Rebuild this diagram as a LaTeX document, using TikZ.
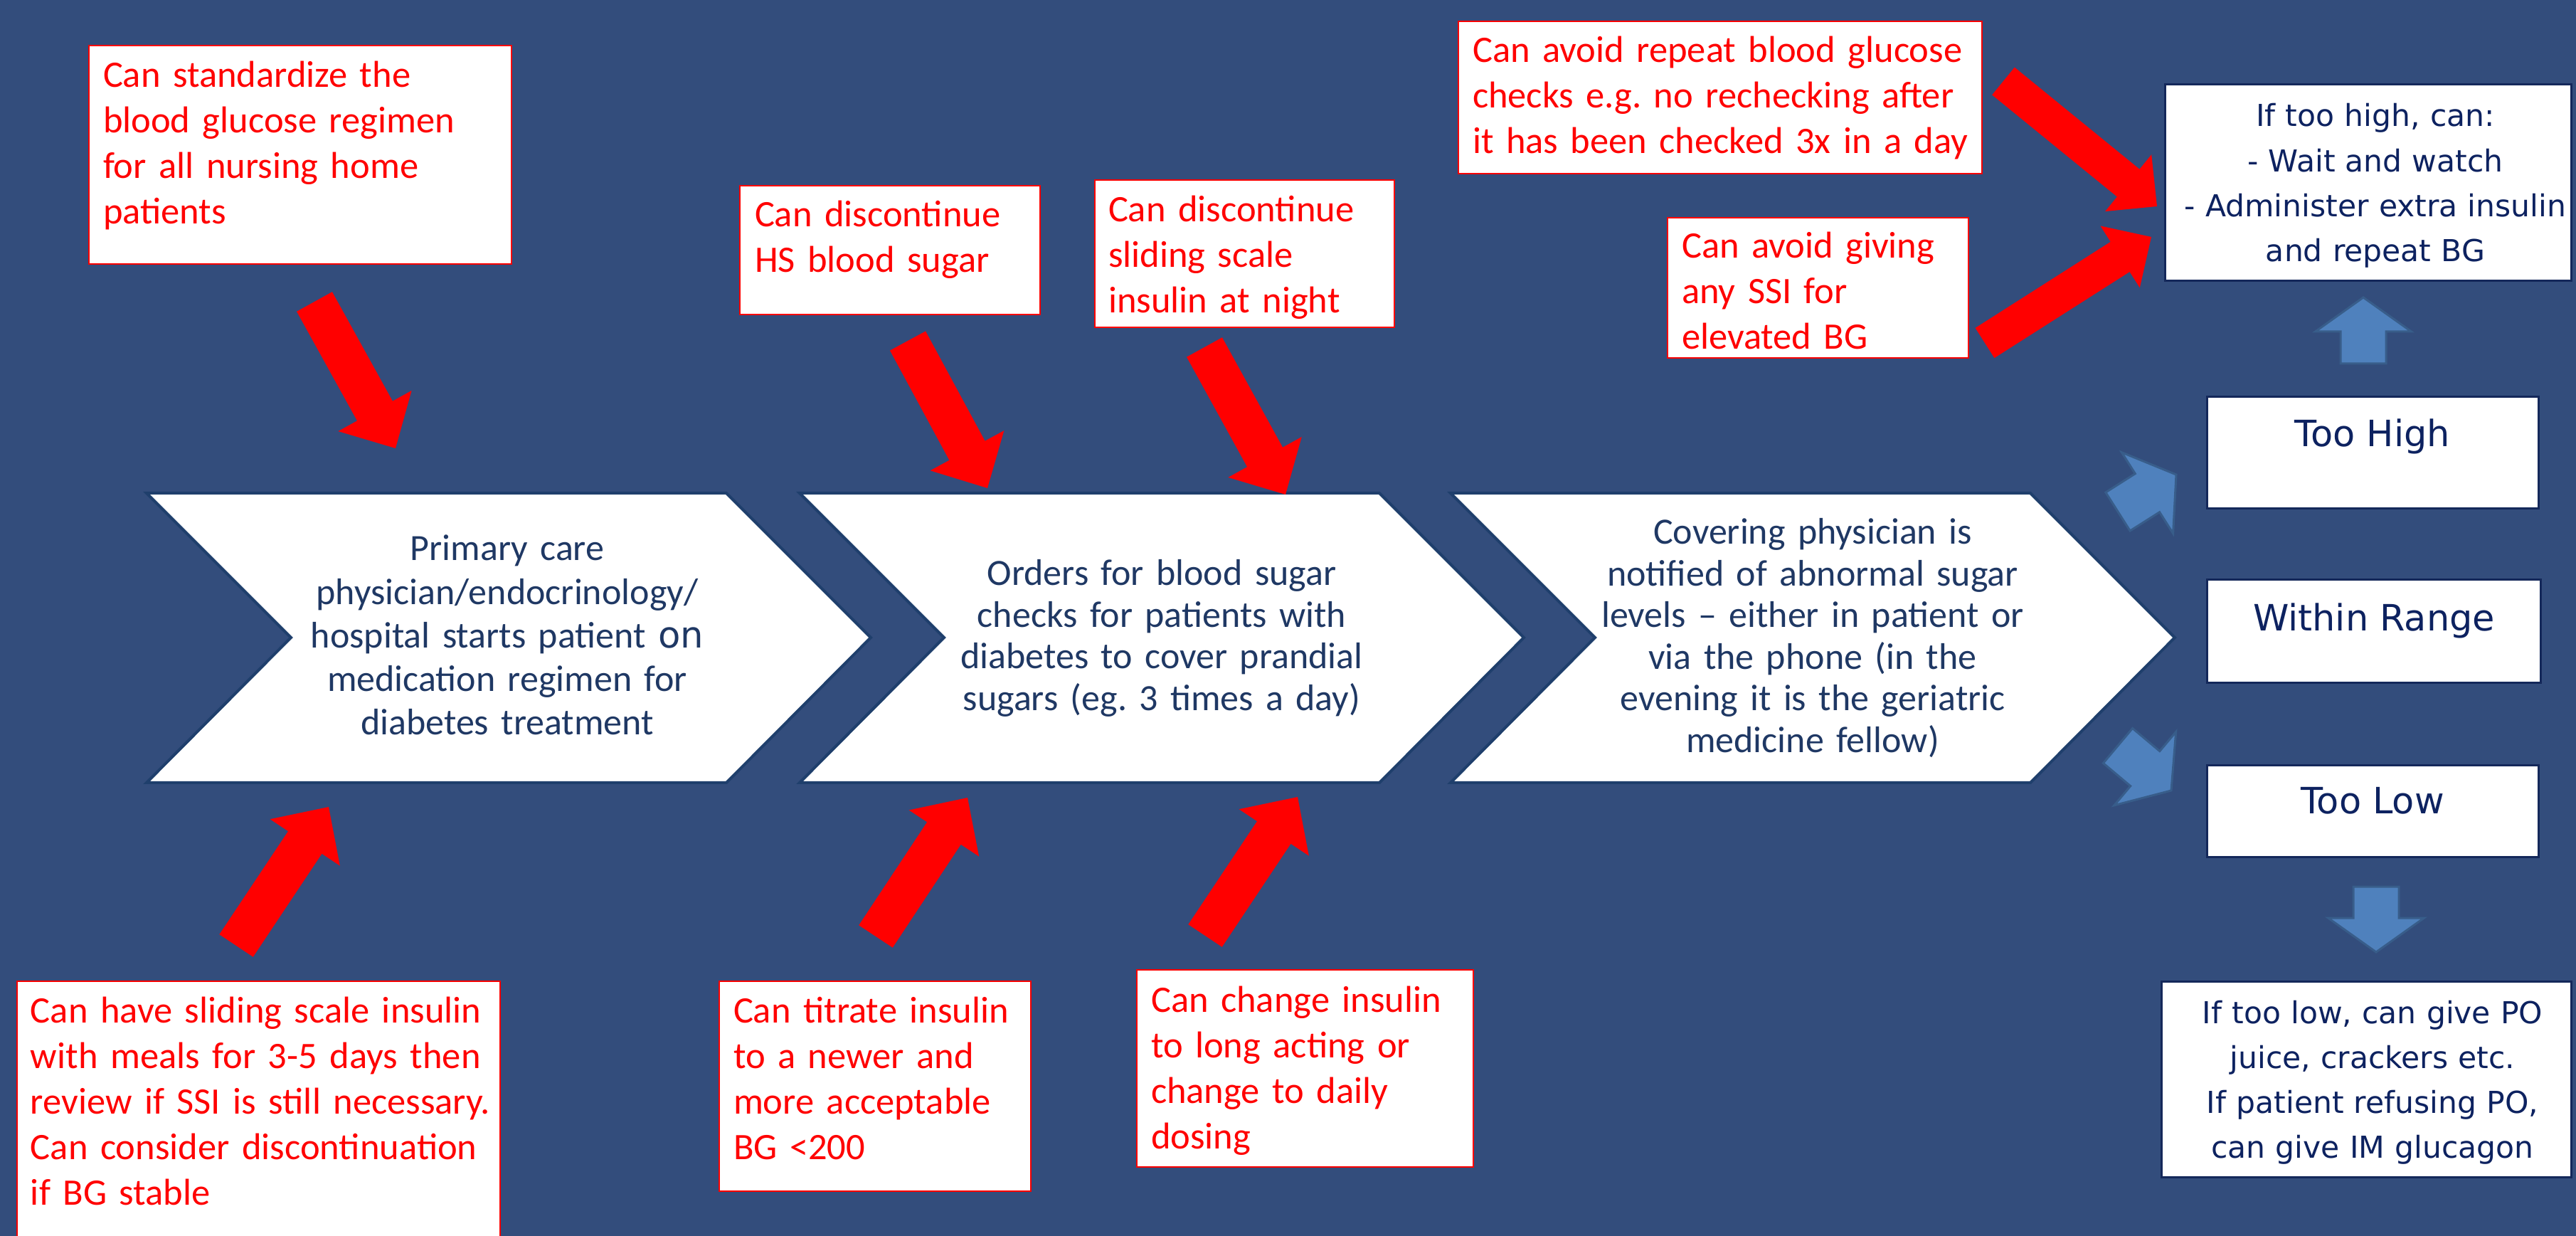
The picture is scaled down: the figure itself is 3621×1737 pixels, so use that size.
\documentclass[tikz,border=0pt]{standalone}
\usepackage{fontspec}
\setmainfont{Carlito}
\newfontfamily\dvsans{DejaVu Sans}
\usetikzlibrary{calc}
\frenchspacing
\definecolor{bgblue}{RGB}{51,77,124}
\definecolor{chevline}{RGB}{31,63,108}
\definecolor{chevtextc}{RGB}{31,56,100}
\definecolor{navytextc}{RGB}{13,34,96}
\definecolor{navyline}{RGB}{20,40,90}
\definecolor{arrowblue}{RGB}{79,129,189}
\definecolor{arrowline}{RGB}{56,93,138}
% block arrow: #1 style, #2 tail, #3 tip, #4 half shaft, #5 half head, #6 head length
\newcommand\blockarrow[6]{%
  \path ($(#3)!#6!(#2)$) coordinate (ba-h);
  \path[#1] ($(#2)!#4!90:(#3)$) -- ($(ba-h)!#4!90:(#3)$) -- ($(ba-h)!#5!90:(#3)$) -- (#3)
    -- ($(ba-h)!#5!-90:(#3)$) -- ($(ba-h)!#4!-90:(#3)$) -- ($(#2)!#4!-90:(#3)$) -- cycle;
}
\newcommand\chevronpath[1]{(#1,693) -- ++(815,0) -- ++(203,203) -- ++(-203,204) -- ++(-815,0) -- ++(203,-204) -- cycle}
\tikzset{
  redbox/.style={draw=red, line width=0.2mm, fill=white, anchor=north west, rectangle},
  navybox/.style={draw=navyline, line width=0.3mm, fill=white, anchor=north west, rectangle},
  redtext/.style={text=red, font={\fontsize{14.94pt}{18.21pt}\selectfont}, align=left, text width=80mm, anchor=base west},
  chevtext/.style={text=chevtextc, font={\fontsize{14.8pt}{16.64pt}\selectfont}, align=center, text width=75mm, anchor=base},
  chevshape/.style={draw=chevline, line width=0.4mm, fill=white, line join=miter},
  navytext/.style={text=navytextc, font={\dvsans\fontsize{12.09pt}{17.93pt}\selectfont}, align=center, text width=60mm, anchor=base},
  bigtext/.style={text=navytextc, font={\dvsans\fontsize{14.5pt}{17pt}\selectfont}, anchor=base},
  redarrow/.style={fill=red},
  bluearrow/.style={fill=arrowblue, draw=arrowline, line width=0.3mm, line join=miter},
}
\begin{document}
\begin{tikzpicture}[x=0.1mm, y=-0.1mm, every node/.style={inner sep=0pt, outer sep=0pt}]
\useasboundingbox (0,0) rectangle (3621,1737);
\clip (0,0) rectangle (3621,1737);
\fill[bgblue] (0,0) rectangle (3621,1737);

% chevrons
\path[chevshape] \chevronpath{206};
\path[chevshape] \chevronpath{1124};
\path[chevshape] \chevronpath{2039};
\node[chevtext, font={\fontsize{14.8pt}{17.36pt}\selectfont}] (c1) at (713,788)
  {Primary care\\physician/endocrinology/\\hospital starts patient {\dvsans\fontsize{14.6pt}{17.36pt}\selectfont on}\\medication regimen for\\diabetes treatment};
\node[chevtext] (c2) at (1633,823)
  {Orders for blood sugar\\checks for patients with\\diabetes to cover prandial\\sugars (eg. 3 times a day)};
\node[chevtext] (c3) at (2548,765)
  {Covering physician is\\notified of abnormal sugar\\levels -- either in patient or\\via the phone (in the\\evening it is the geriatric\\medicine fellow)};

% red boxes
\node[redbox, minimum width=59.4mm, minimum height=30.7mm] (r1) at (125,64) {};
\node[redtext] (r1t) at (145,123) {Can standardize the\\blood glucose regimen\\for all nursing home\\patients};
\node[redbox, minimum width=42.2mm, minimum height=18.1mm] (r2) at (1040,261) {};
\node[redtext] (r2t) at (1061,319) {Can discontinue\\HS blood sugar};
\node[redbox, minimum width=42.1mm, minimum height=20.7mm] (r3) at (1539,253) {};
\node[redtext] (r3t) at (1558,312) {Can discontinue\\sliding scale\\insulin at night};
\node[redbox, minimum width=73.6mm, minimum height=21.4mm] (r4) at (2050,30) {};
\node[redtext] (r4t) at (2070,88) {Can avoid repeat blood glucose\\checks e.g. no rechecking after\\it has been checked 3x in a day};
\node[redbox, minimum width=42.3mm, minimum height=19.7mm] (r5) at (2344,306) {};
\node[redtext] (r5t) at (2364,363) {Can avoid giving\\any SSI for\\elevated BG};
\node[redbox, minimum width=67.9mm, minimum height=38mm] (r6) at (24,1379) {};
\node[redtext] (r6t) at (43,1437) {Can have sliding scale insulin\\with meals for 3-5 days then\\review if SSI is still necessary.\\Can consider discontinuation\\if BG stable};
\node[redbox, minimum width=43.8mm, minimum height=29.5mm] (r7) at (1011,1379) {};
\node[redtext] (r7t) at (1031,1437) {Can titrate insulin\\to a newer and\\more acceptable\\BG <200};
\node[redbox, minimum width=47.3mm, minimum height=27.7mm] (r8) at (1598,1363) {};
\node[redtext] (r8t) at (1618,1422) {Can change insulin\\to long acting or\\change to daily\\dosing};

% right column boxes
\node[navybox, minimum width=57.1mm, minimum height=27.6mm] (hi) at (3043,119) {};
\node[navytext] (hit) at (3339,178) {If too high, can:\\- Wait and watch\\- Administer extra insulin\\and repeat BG};
\node[navybox, minimum width=46.6mm, minimum height=15.7mm] (th) at (3102,558) {};
\node[bigtext] (tht) at (3335,628) {Too High};
\node[navybox, minimum width=46.9mm, minimum height=14.5mm] (wr) at (3102,815) {};
\node[bigtext] (wrt) at (3337,887) {Within Range};
\node[navybox, minimum width=46.6mm, minimum height=12.9mm] (tl) at (3102,1076) {};
\node[bigtext] (tlt) at (3335,1144) {Too Low};
\node[navybox, minimum width=57.6mm, minimum height=27.5mm] (lo) at (3038,1379) {};
\node[navytext] (lot) at (3335,1438) {If too low, can give PO\\juice, crackers etc.\\If patient refusing PO,\\can give IM glucagon};

% red arrows
\coordinate (a1s) at (442,424);  \coordinate (a1e) at (556,630);
\coordinate (a2s) at (1276,479); \coordinate (a2e) at (1388,686);
\coordinate (a3s) at (1693,488); \coordinate (a3e) at (1807,695);
\coordinate (a4s) at (2816,114); \coordinate (a4e) at (3032,290);
\coordinate (a5s) at (2790,482); \coordinate (a5e) at (3024,333);
\coordinate (a6s) at (332,1329); \coordinate (a6e) at (462,1134);
\coordinate (a7s) at (1231,1316); \coordinate (a7e) at (1360,1121);
\coordinate (a8s) at (1694,1315); \coordinate (a8e) at (1824,1120);
\blockarrow{redarrow}{a1s}{a1e}{2.85mm}{5.9mm}{6mm}
\blockarrow{redarrow}{a2s}{a2e}{2.85mm}{5.9mm}{6mm}
\blockarrow{redarrow}{a3s}{a3e}{2.85mm}{5.9mm}{6mm}
\blockarrow{redarrow}{a4s}{a4e}{2.5mm}{5.15mm}{5.2mm}
\blockarrow{redarrow}{a5s}{a5e}{2.5mm}{5.15mm}{5.2mm}
\blockarrow{redarrow}{a6s}{a6e}{2.85mm}{5.9mm}{6mm}
\blockarrow{redarrow}{a7s}{a7e}{2.85mm}{5.9mm}{6mm}
\blockarrow{redarrow}{a8s}{a8e}{2.85mm}{5.9mm}{6mm}

% blue arrows
\coordinate (b1s) at (3322,511);  \coordinate (b1e) at (3322,418);
\coordinate (b2s) at (2977,719);  \coordinate (b2e) at (3059,667);
\coordinate (b3s) at (2977,1048); \coordinate (b3e) at (3052,1111);
\coordinate (b4s) at (3340,1246); \coordinate (b4e) at (3340,1338);
\blockarrow{bluearrow}{b1s}{b1e}{3.2mm}{6.75mm}{4.8mm}
\blockarrow{bluearrow}{b2s}{b2e}{3.2mm}{6.75mm}{4.8mm}
\blockarrow{bluearrow}{b3s}{b3e}{3.2mm}{6.75mm}{4.8mm}
\blockarrow{bluearrow}{b4s}{b4e}{3.2mm}{6.75mm}{4.8mm}
\end{tikzpicture}
\end{document}
